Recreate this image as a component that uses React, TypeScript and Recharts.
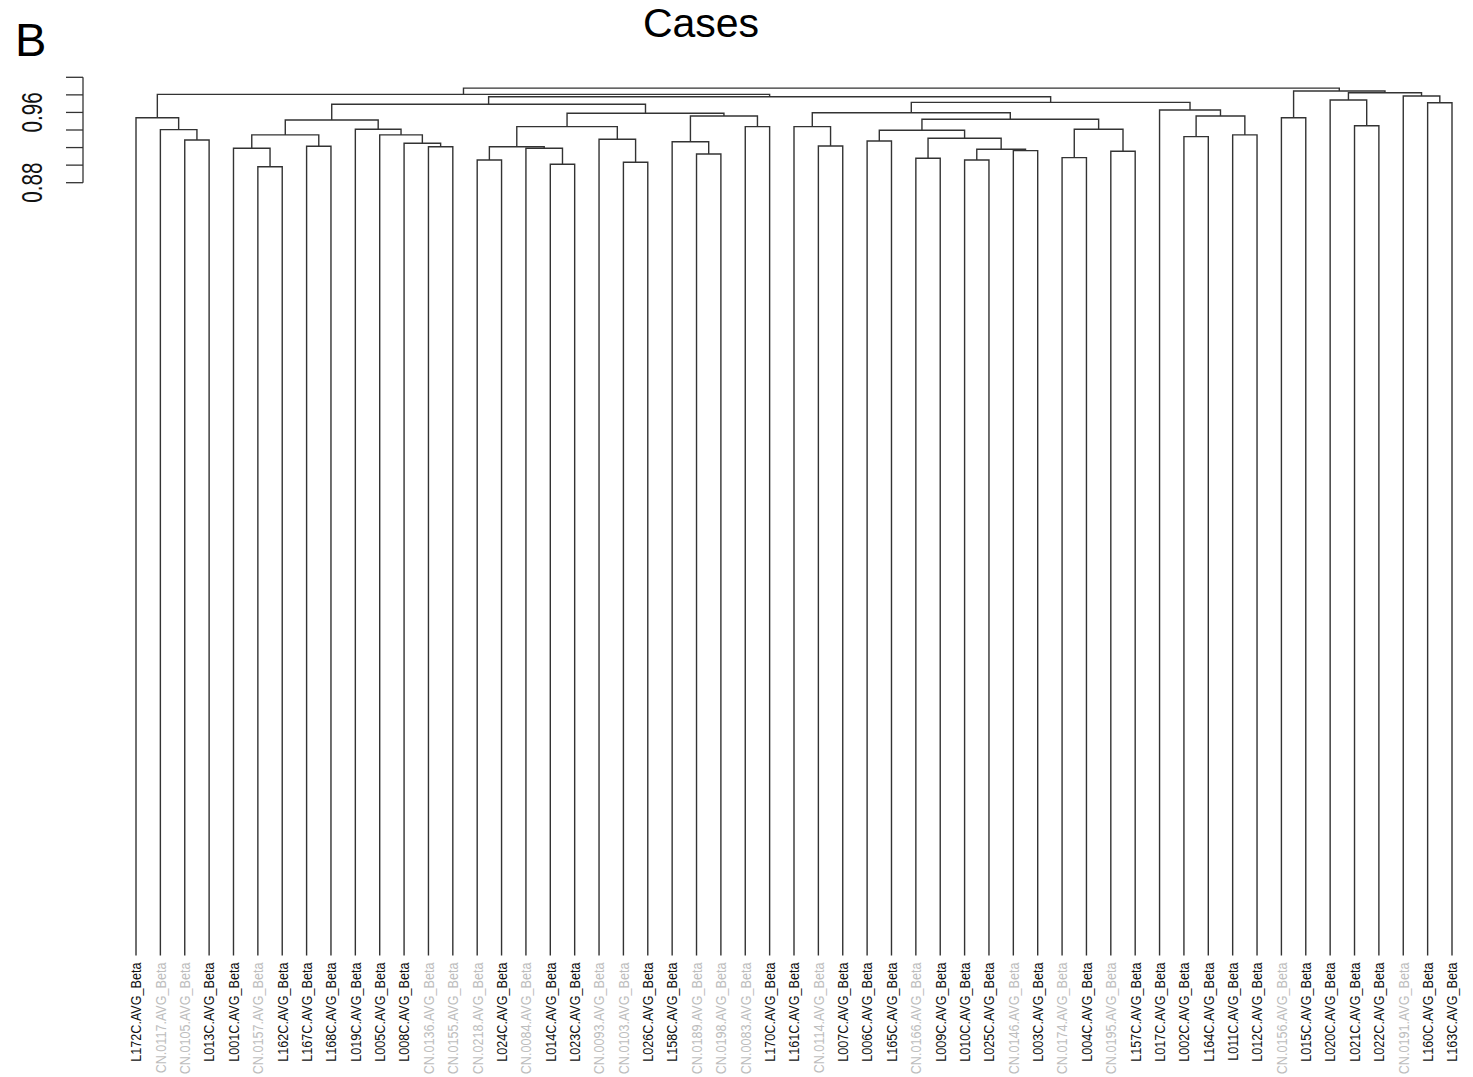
import { LineChart, Line, XAxis, YAxis, ReferenceLine } from "recharts";

// leaves, in the order they are plotted
const leafLabels = [
  "L172C.AVG_Beta", "CN.0117.AVG_Beta", "CN.0105.AVG_Beta", "L013C.AVG_Beta", "L001C.AVG_Beta",
  "CN.0157.AVG_Beta", "L162C.AVG_Beta", "L167C.AVG_Beta", "L168C.AVG_Beta", "L019C.AVG_Beta",
  "L005C.AVG_Beta", "L008C.AVG_Beta", "CN.0136.AVG_Beta", "CN.0155.AVG_Beta", "CN.0218.AVG_Beta",
  "L024C.AVG_Beta", "CN.0084.AVG_Beta", "L014C.AVG_Beta", "L023C.AVG_Beta", "CN.0093.AVG_Beta",
  "CN.0103.AVG_Beta", "L026C.AVG_Beta", "L158C.AVG_Beta", "CN.0189.AVG_Beta", "CN.0198.AVG_Beta",
  "CN.0083.AVG_Beta", "L170C.AVG_Beta", "L161C.AVG_Beta", "CN.0114.AVG_Beta", "L007C.AVG_Beta",
  "L006C.AVG_Beta", "L165C.AVG_Beta", "CN.0166.AVG_Beta", "L009C.AVG_Beta", "L010C.AVG_Beta",
  "L025C.AVG_Beta", "CN.0146.AVG_Beta", "L003C.AVG_Beta", "CN.0174.AVG_Beta", "L004C.AVG_Beta",
  "CN.0195.AVG_Beta", "L157C.AVG_Beta", "L017C.AVG_Beta", "L002C.AVG_Beta", "L164C.AVG_Beta",
  "L011C.AVG_Beta", "L012C.AVG_Beta", "CN.0156.AVG_Beta", "L015C.AVG_Beta", "L020C.AVG_Beta",
  "L021C.AVG_Beta", "L022C.AVG_Beta", "CN.0191.AVG_Beta", "L160C.AVG_Beta", "L163C.AVG_Beta",
];

// hclust-style merge table: negative = leaf (1-based, plotted order), positive = earlier merge row
const merges: [number, number][] = [
  [-3, -4], [-2, 1], [-1, 2], [-6, -7], [-5, 4], [-8, -9], [5, 6], [-13, -14], [-12, 8], [-11, 9],
  [-10, 10], [7, 11], [-15, -16], [-18, -19], [-17, 14], [13, 15], [-21, -22], [-20, 17], [16, 18],
  [-24, -25], [-23, 20], [-26, -27], [21, 22], [19, 23], [12, 24], [-29, -30], [-28, 26], [-31, -32],
  [-33, -34], [-35, -36], [-37, -38], [30, 31], [29, 32], [28, 33], [-39, -40], [-41, -42], [35, 36],
  [34, 37], [27, 38], [-44, -45], [-46, -47], [40, 41], [-43, 42], [39, 43], [25, 44], [3, 45],
  [-48, -49], [-51, -52], [-50, 48], [-54, -55], [-53, 50], [49, 51], [47, 52], [46, 53],
];

const mergeHeights = [
  0.9286, 0.9404, 0.954, 0.8982, 0.9192, 0.9215, 0.9344, 0.921, 0.9249, 0.9344,
  0.9408, 0.9514, 0.9059, 0.901, 0.9192, 0.921, 0.9032, 0.9295, 0.9438,
  0.9127, 0.9267, 0.9438, 0.956, 0.959, 0.9693, 0.9218, 0.9438, 0.9275,
  0.9078, 0.9059, 0.9165, 0.918, 0.9306, 0.9397, 0.9085, 0.9158, 0.9408,
  0.9522, 0.9597, 0.9324, 0.9344, 0.956, 0.9628, 0.9715, 0.9779, 0.9806,
  0.954, 0.9449, 0.9742, 0.9711, 0.9787, 0.9824, 0.9844, 0.9877,
];

const yTicks = [0.88, 0.9, 0.92, 0.94, 0.96, 0.98, 1.0];
const yLabelled = [0.88, 0.96];
const xLeft = -2.175; // x range starts left of the first leaf, where the axis sits

type Pt = { x: number; y: number };

function buildSegments(): Pt[][] {
  const nodeX: number[] = [];
  const nodeH: number[] = [];
  const pos = (ref: number) =>
    ref < 0 ? { x: -ref - 1, h: 0 } : { x: nodeX[ref - 1], h: nodeH[ref - 1] };
  return merges.map(([a, b], i) => {
    const pa = pos(a);
    const pb = pos(b);
    const h = mergeHeights[i];
    nodeX.push((pa.x + pb.x) / 2);
    nodeH.push(h);
    return [
      { x: pa.x, y: pa.h },
      { x: pa.x, y: h },
      { x: pb.x, y: h },
      { x: pb.x, y: pb.h },
    ];
  });
}

const segments = buildSegments();
const leafTicks = leafLabels.map((_, i) => i);
const font = "'Liberation Sans', Arial, Helvetica, sans-serif";

function LeafTick(props: any) {
  const { x, y, payload } = props;
  const label = leafLabels[payload.value];
  const isControl = label.startsWith("CN.");
  return (
    <text
      transform={`translate(${x},${y}) rotate(-90) scale(0.9,1)`}
      textAnchor="end"
      dy="0.38em"
      fontSize={14}
      fontFamily={font}
      fill={isControl ? "#bdbdbd" : "#111"}
    >
      {label}
    </text>
  );
}

function HeightTick(props: any) {
  const { x, y, payload } = props;
  if (!yLabelled.includes(payload.value)) return null;
  return (
    <text
      transform={`translate(${x - 22},${y}) rotate(-90) scale(0.69,1)`}
      textAnchor="middle"
      fontSize={30}
      fontFamily={font}
      fill="#111"
    >
      {payload.value.toFixed(2)}
    </text>
  );
}

export default function App() {
  return (
    <div style={{ position: "absolute", left: 0, top: 0, width: 1473, height: 1077, background: "#fff" }}>
      <div
        style={{
          position: "absolute", left: 501, top: 3, width: 400, textAlign: "center",
          fontFamily: font, fontSize: 41, lineHeight: "41px", color: "#000",
        }}
      >
        Cases
      </div>
      <div
        style={{
          position: "absolute", left: 15, top: 16, fontFamily: font,
          fontSize: 47, lineHeight: "47px", color: "#000",
        }}
      >
        B
      </div>
      <LineChart width={1473} height={1077} margin={{ top: 77.3, right: 21, bottom: 0, left: 0 }}>
        <XAxis
          type="number"
          dataKey="x"
          domain={[xLeft, leafLabels.length - 1]}
          ticks={leafTicks}
          interval={0}
          axisLine={false}
          tickLine={false}
          tickSize={0}
          tickMargin={7}
          height={121.4}
          tick={<LeafTick />}
        />
        <YAxis
          type="number"
          dataKey="y"
          domain={[0, 1]}
          ticks={yTicks}
          interval={0}
          width={83}
          axisLine={false}
          tickSize={17}
          tickLine={{ stroke: "#333", strokeWidth: 1.3 }}
          tick={<HeightTick />}
        />
        <ReferenceLine
          segment={[{ x: xLeft, y: yTicks[0] }, { x: xLeft, y: yTicks[yTicks.length - 1] }]}
          stroke="#333"
          strokeWidth={1.3}
          ifOverflow="visible"
        />
        {segments.map((seg, i) => (
          <Line
            key={i}
            data={seg}
            dataKey="y"
            type="linear"
            stroke="#333"
            strokeWidth={1.4}
            dot={false}
            activeDot={false}
            isAnimationActive={false}
          />
        ))}
      </LineChart>
    </div>
  );
}
